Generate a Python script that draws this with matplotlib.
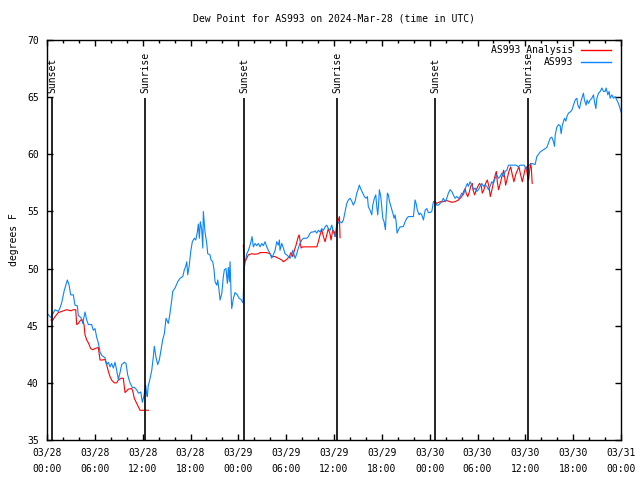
import numpy as np
import pandas as pd
import matplotlib
matplotlib.use("Agg")
import matplotlib.pyplot as plt
import matplotlib.dates as mdates

# hours since 2024-03-28 00:00 UTC, dew point in F
obs_hours = [0.0, 0.5, 1.0, 1.42, 1.63, 1.84, 2.17, 2.55, 2.76, 2.97, 3.3, 3.51, 3.8, 3.93,
             4.27, 4.48, 4.77, 4.98, 5.19, 5.6, 5.81, 6.02, 6.23, 6.44, 6.65, 6.86, 7.28,
             7.49, 7.7, 7.9, 8.1, 8.32, 8.53, 8.74, 8.95, 9.16, 9.37, 9.7, 9.91, 10.12,
             10.41, 10.7, 10.95, 11.25, 11.46, 11.76, 11.96, 12.17, 12.38, 12.5, 12.58,
             12.71, 12.84, 13.14, 13.34, 13.46, 13.68, 13.89, 14.09, 14.3, 14.52, 14.72,
             14.93, 15.22, 15.43, 15.65, 15.77, 16.06, 16.4, 16.69, 17.03, 17.23, 17.4,
             17.53, 17.65, 17.85, 18.03, 18.23, 18.48, 18.66, 18.86, 18.98, 19.11, 19.23,
             19.41, 19.54, 19.61, 19.82, 20.04, 20.16, 20.45, 20.58, 20.79, 20.95, 21.08,
             21.29, 21.42, 21.58, 21.71, 21.92, 22.12, 22.25, 22.46, 22.62, 22.75, 22.87,
             22.96, 23.09, 23.17, 23.38, 23.59, 23.88, 24.09, 24.34, 24.5, 24.6, 24.72,
             24.84, 25.06, 25.27, 25.47, 25.6, 25.72, 25.88, 26.1, 26.31, 26.51, 26.73,
             26.94, 27.14, 27.35, 27.56, 27.77, 27.98, 28.19, 28.39, 28.61, 28.82, 29.02,
             29.15, 29.23, 29.45, 29.65, 29.86, 30.08, 30.28, 30.49, 30.7, 30.83, 30.99,
             31.12, 31.33, 31.53, 31.74, 31.96, 32.16, 32.58, 32.79, 33.0, 33.21, 33.41,
             33.63, 33.84, 34.04, 34.25, 34.47, 34.67, 34.88, 35.09, 35.29, 35.51, 35.72,
             35.92, 36.14, 36.35, 36.55, 36.76, 36.98, 37.18, 37.39, 37.6, 37.8, 38.02,
             38.23, 38.43, 38.65, 38.86, 39.06, 39.18, 39.4, 39.61, 39.81, 40.03, 40.19,
             40.31, 40.53, 40.74, 40.86, 41.07, 41.24, 41.37, 41.49, 41.62, 41.69, 41.87,
             41.99, 42.12, 42.28, 42.45, 42.53, 42.62, 42.7, 42.82, 42.95, 43.16, 43.38,
             43.54, 43.66, 43.79, 43.91, 44.08, 44.29, 44.5, 44.71, 44.92, 45.13, 45.33,
             45.55, 45.76, 45.96, 46.17, 46.3, 46.46, 46.68, 46.8, 47.01, 47.22, 47.43,
             47.64, 47.84, 48.06, 48.27, 48.47, 48.68, 48.89, 49.1, 49.31, 49.52, 49.72,
             49.94, 50.15, 50.35, 50.56, 50.77, 50.97, 51.19, 51.4, 51.61, 51.82, 52.03,
             52.23, 52.36, 52.57, 52.73, 52.86, 53.07, 53.29, 53.49, 53.7, 53.91, 54.12,
             54.33, 54.54, 54.74, 54.87, 55.17, 55.37, 55.58, 55.79, 55.99, 56.21, 56.42,
             56.62, 56.84, 57.05, 57.25, 57.47, 57.68, 57.88, 58.34, 58.85, 59.1, 59.35,
             59.85, 60.1, 60.35, 60.82, 61.23, 61.44, 61.86, 62.27, 62.48, 62.7, 63.11,
             63.32, 63.53, 63.66, 63.75, 63.96, 64.16, 64.37, 64.49, 64.66, 64.91, 65.08,
             65.21, 65.41, 65.62, 65.83, 66.04, 66.25, 66.46, 66.59, 66.79, 66.96, 67.16,
             67.29, 67.41, 67.63, 67.75, 67.92, 68.13, 68.34, 68.55, 68.67, 68.85, 68.97,
             69.18, 69.39, 69.6, 69.8, 70.01, 70.14, 70.35, 70.51, 70.64, 70.85, 71.05,
             71.27, 71.48, 71.68, 71.89, 72.0]
obs_dewp = [46.1, 45.7, 46.4, 46.25, 46.55, 47.0, 48.1, 49.0, 48.6, 47.7, 47.7, 46.8, 46.75,
            45.9, 45.7, 45.2, 46.2, 45.5, 45.1, 45.1, 44.6, 44.75, 44.0, 43.5, 42.7, 42.4,
            42.2, 41.6, 41.8, 41.4, 41.7, 41.3, 41.8, 41.1, 40.3, 40.9, 41.6, 41.8, 41.7,
            40.7, 40.0, 39.6, 39.6, 39.4, 39.1, 39.2, 38.3, 38.9, 39.8, 39.0, 38.8, 39.8,
            40.1, 41.1, 42.3, 43.2, 42.2, 41.6, 42.0, 42.9, 43.8, 44.3, 45.65, 45.2, 46.1,
            47.25, 48.0, 48.3, 48.85, 49.15, 49.3, 49.9, 50.2, 50.6, 49.45, 50.3, 51.5,
            52.35, 52.65, 52.5, 53.2, 53.9, 52.65, 54.1, 53.4, 51.8, 55.0, 53.2, 52.2, 51.3,
            51.2, 50.75, 50.6, 49.9, 48.85, 48.55, 49.0, 48.1, 47.25, 47.8, 49.3, 49.9, 50.0,
            48.7, 50.1, 48.85, 50.6, 47.8, 46.5, 47.4, 47.9, 47.7, 47.4, 47.3, 47.1, 47.0,
            50.0, 50.45, 51.3, 51.6, 52.05, 52.4, 52.8, 51.9, 52.2, 52.0, 52.2, 51.9, 52.2,
            52.0, 52.35, 51.9, 51.6, 51.3, 50.9, 51.2, 51.6, 52.35, 52.05, 52.5, 51.6, 52.2,
            51.8, 51.3, 51.2, 51.05, 50.9, 51.2, 51.6, 51.2, 50.9, 51.3, 51.8, 52.2, 52.5,
            52.65, 52.65, 52.8, 53.1, 53.2, 53.2, 53.3, 53.1, 53.35, 53.2, 53.5, 53.35,
            53.65, 53.8, 53.5, 53.35, 53.8, 53.2, 52.8, 53.9, 54.0, 54.1, 54.0, 54.25, 55.0,
            55.7, 56.0, 56.15, 55.9, 55.55, 55.9, 56.6, 57.0, 57.3, 56.9, 56.6, 56.3, 56.15,
            56.3, 55.4, 55.1, 54.7, 55.55, 56.15, 56.45, 55.4, 54.7, 55.9, 56.9, 56.3, 55.4,
            54.4, 54.1, 53.4, 54.6, 55.7, 56.6, 56.45, 55.9, 55.4, 54.85, 54.4, 54.7, 54.1,
            53.1, 53.4, 53.65, 53.65, 53.7, 54.1, 54.4, 54.55, 54.55, 54.55, 54.55, 56.0,
            55.7, 55.1, 54.7, 54.85, 54.7, 54.25, 55.1, 55.25, 54.9, 54.9, 55.0, 55.85,
            55.85, 55.55, 55.55, 55.7, 55.85, 56.15, 55.85, 56.15, 56.6, 56.9, 56.75, 56.45,
            56.15, 56.3, 56.15, 56.3, 56.6, 56.45, 56.75, 57.2, 57.45, 57.2, 57.6, 57.3,
            56.9, 57.05, 56.75, 56.9, 57.2, 57.45, 57.2, 57.3, 57.2, 56.9, 57.2, 57.6, 57.45,
            57.9, 58.2, 57.9, 58.05, 58.35, 58.05, 58.5, 58.6, 59.05, 59.05, 59.05, 58.9,
            59.05, 59.05, 58.7, 59.0, 59.2, 59.1, 59.8, 60.2, 60.4, 60.5, 60.6, 61.4, 61.5,
            61.1, 60.7, 61.7, 62.4, 62.6, 62.5, 61.8, 62.6, 63.15, 62.9, 63.3, 63.6, 63.7,
            63.85, 64.3, 64.75, 64.9, 64.3, 64.0, 64.6, 65.05, 65.35, 64.75, 64.3, 64.75,
            64.45, 64.75, 64.9, 65.2, 64.6, 64.0, 64.9, 65.35, 65.5, 65.8, 65.5, 65.5, 65.8,
            65.2, 65.5, 64.9, 65.2, 64.9, 65.05, 64.75, 64.45, 64.0, 63.7]

# analysis series, NaN marks the gaps between runs
ana_hours = [0.5, 0.75, 1.0, 1.42, 1.84, 2.47, 3.01, 3.3, 3.6, 3.73, 3.93, 4.23, 4.48, 4.64,
             4.77, 4.98, 5.19, 5.48, 5.73, 6.02, 6.44, 6.65, 6.94, 7.28, 7.49, 7.7, 7.9,
             8.1, 8.44, 8.74, 8.95, 9.28, 9.57, 9.79, 10.0, 10.2, 10.63, 10.75, 10.95,
             11.25, 11.46, 11.67, 12.71, 18.0,
             24.63, 24.67, 24.84, 25.06, 25.26, 25.68, 26.1, 26.51, 26.73, 27.56, 27.98,
             28.19, 28.61, 29.02, 29.45, 29.65, 30.08, 30.4, 30.61, 30.83, 31.03, 31.24,
             31.46, 31.62, 31.74, 31.87, 32.08, 32.28, 33.63, 33.84, 34.04, 34.25, 34.47,
             34.67, 34.88, 35.09, 35.29, 35.51, 35.63, 35.84, 36.05, 36.14, 36.35, 36.55,
             36.68, 36.76, 42.0,
             48.68, 48.89, 49.31, 49.72, 50.15, 50.56, 50.77, 51.19, 51.61, 51.82, 52.03,
             52.23, 52.45, 52.57, 52.78, 52.98, 53.14, 53.35, 53.43, 53.64, 53.85, 54.05,
             54.26, 54.48, 54.6, 54.81, 55.02, 55.23, 55.43, 55.61, 55.81, 56.02, 56.23,
             56.36, 56.48, 56.64, 56.86, 57.06, 57.28, 57.4, 57.53, 57.74, 57.94, 58.16,
             58.37, 58.57, 58.78, 59.0, 59.2, 59.41, 59.62, 59.82, 60.0, 60.12, 60.25,
             60.41, 60.54, 60.66, 60.75, 60.86]
ana_dewp = [45.5, 45.5, 45.8, 46.15, 46.25, 46.4, 46.3, 46.4, 46.4, 45.1, 45.2, 45.5, 45.5,
            45.1, 44.2, 43.75, 43.5, 43.0, 42.9, 43.0, 43.1, 42.0, 42.0, 42.05, 41.55, 41.0,
            40.55, 40.25, 40.0, 40.0, 40.25, 40.4, 40.4, 39.15, 39.3, 39.45, 39.5, 39.3,
            38.65, 38.2, 37.9, 37.6, 37.6, np.nan,
            52.05, 51.4, 50.6, 50.9, 51.2, 51.3, 51.25, 51.3, 51.4, 51.4, 51.3, 51.05,
            51.05, 50.9, 50.75, 50.6, 50.8, 51.05, 51.4, 51.05, 51.6, 52.05, 52.65, 52.95,
            52.5, 51.8, 51.9, 51.9, 51.9, 51.9, 52.35, 52.95, 53.4, 52.8, 52.35, 52.95,
            53.5, 53.0, 52.5, 53.4, 53.2, 52.8, 53.5, 54.3, 54.55, 52.7, np.nan,
            55.85, 55.7, 55.85, 55.85, 55.95, 55.85, 55.8, 55.85, 56.0, 56.15, 56.3, 56.7,
            57.0, 56.6, 56.3, 56.7, 57.2, 57.45, 56.9, 56.45, 56.9, 57.2, 57.45, 57.2, 56.6,
            56.9, 57.45, 57.75, 57.2, 56.3, 56.9, 57.6, 58.2, 58.5, 57.6, 56.9, 57.45, 58.05,
            58.6, 58.05, 57.3, 57.9, 58.5, 58.9, 58.2, 57.6, 58.2, 58.6, 58.9, 58.2, 57.6,
            58.2, 58.8, 58.9, 58.2, 57.75, 58.6, 59.2, 58.8, 57.45]

sun_hours = [0.67, 12.35, 24.72, 36.37, 48.7, 60.35]
sun_labels = ["Sunset", "Sunrise", "Sunset", "Sunrise", "Sunset", "Sunrise"]

start = pd.Timestamp("2024-03-28 00:00")
obs_t = start + pd.to_timedelta(obs_hours, unit="h")
ana_t = start + pd.to_timedelta(ana_hours, unit="h")
sun_t = start + pd.to_timedelta(sun_hours, unit="h")

plt.rcParams["font.family"] = "DejaVu Sans Mono"
plt.rcParams["font.size"] = 7

fig = plt.figure(figsize=(6.4, 4.8), dpi=100)
ax = fig.add_axes([47 / 640, 40 / 480, 574 / 640, 400 / 480])

ax.plot(ana_t, ana_dewp, color="#ff0000", lw=0.8)
ax.plot(obs_t, obs_dewp, color="#0a84ff", lw=0.8)

for t, lab in zip(sun_t, sun_labels):
    ax.vlines(t, 35, 64.9, color="black", lw=1.2)
    ax.text(t, 65.4, lab, rotation=90, ha="center", va="bottom")

ax.set_xlim(start, start + pd.Timedelta(hours=72))
ax.set_ylim(35, 70)
ax.set_yticks(np.arange(35, 71, 5))
ax.xaxis.set_major_locator(mdates.HourLocator(byhour=[0, 6, 12, 18]))
ax.xaxis.set_minor_locator(mdates.HourLocator(interval=2))
ax.xaxis.set_major_formatter(mdates.DateFormatter("%m/%d\n%H:%M"))
ax.tick_params(which="both", direction="in", top=True, right=True, width=1)
ax.tick_params(which="major", length=4.5, pad=6)
ax.tick_params(which="minor", length=2)
for s in ax.spines.values():
    s.set_linewidth(1)

fig.canvas.draw()
for lbl in ax.get_xticklabels():
    lbl.set_linespacing(1.75)

ax.set_ylabel("degrees F", labelpad=6)
ax.set_title("Dew Point for AS993 on 2024-Mar-28 (time in UTC)", fontsize=7, pad=13)

# gnuplot style key: right aligned text, sample line after it
keys = [("AS993 Analysis", "#ff0000", 0.975), ("AS993", "#0a84ff", 0.945)]
for lab, col, yk in keys:
    ax.text(0.917, yk, lab, ha="right", va="center", transform=ax.transAxes)
    ax.plot([0.93, 0.982], [yk, yk], color=col, lw=1, transform=ax.transAxes)

fig.savefig("out.png", dpi=100)
